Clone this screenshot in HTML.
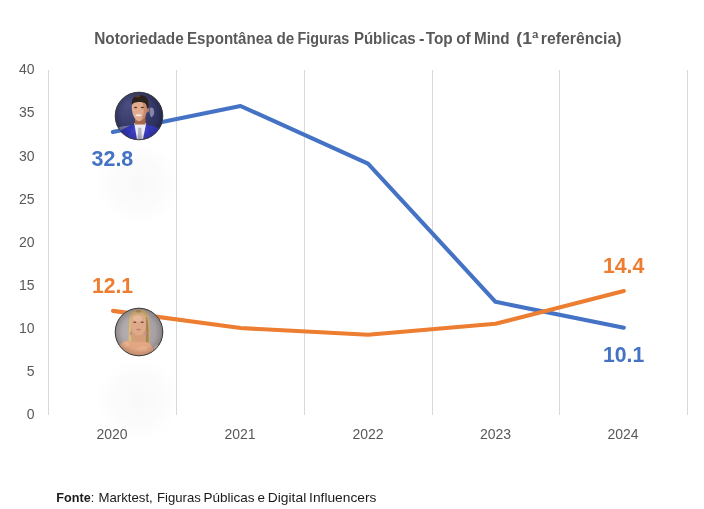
<!DOCTYPE html>
<html>
<head>
<meta charset="utf-8">
<style>
html,body{margin:0;padding:0;background:#fff;}
body{width:704px;height:509px;overflow:hidden;position:relative;font-family:"Liberation Sans",sans-serif;}
svg{position:absolute;left:0;top:0;will-change:transform;}
.t{font-family:"Liberation Sans",sans-serif;}
</style>
</head>
<body>
<svg width="704" height="509" viewBox="0 0 704 509">
<defs>
  <radialGradient id="sh" cx="0.5" cy="0.5" r="0.5">
    <stop offset="0" stop-color="#000" stop-opacity="0.025"/>
    <stop offset="0.6" stop-color="#000" stop-opacity="0.014"/>
    <stop offset="1" stop-color="#000" stop-opacity="0"/>
  </radialGradient>
  <clipPath id="c1"><circle cx="139" cy="116" r="24"/></clipPath>
  <clipPath id="c2"><circle cx="139" cy="332" r="24"/></clipPath>
  <radialGradient id="bg1" cx="0.3" cy="0.25" r="0.8">
    <stop offset="0" stop-color="#4a4f82"/>
    <stop offset="1" stop-color="#22264f"/>
  </radialGradient>
  <radialGradient id="bg2" cx="0.4" cy="0.45" r="0.6">
    <stop offset="0" stop-color="#bab3b5"/>
    <stop offset="1" stop-color="#9a9395"/>
  </radialGradient>
  <radialGradient id="vig" cx="0.5" cy="0.5" r="0.5">
    <stop offset="0.7" stop-color="#000" stop-opacity="0"/>
    <stop offset="1" stop-color="#000" stop-opacity="0.17"/>
  </radialGradient>
  <filter id="soft" x="-10%" y="-10%" width="120%" height="120%"><feGaussianBlur stdDeviation="0.55"/></filter>
</defs>

<!-- faint shadows -->
<ellipse cx="138" cy="184" rx="43" ry="41" fill="url(#sh)"/>
<ellipse cx="138" cy="399.5" rx="43" ry="41" fill="url(#sh)"/>

<!-- gridlines -->
<g fill="#d9d9d9">
  <rect x="48" y="70" width="1" height="345"/>
  <rect x="176" y="70" width="1" height="345"/>
  <rect x="304" y="70" width="1" height="345"/>
  <rect x="432" y="70" width="1" height="345"/>
  <rect x="559" y="70" width="1" height="345"/>
  <rect x="687" y="70" width="1" height="345"/>
</g>

<!-- y axis labels -->
<g class="t" font-size="14" fill="#595959" text-anchor="end">
  <text x="34.5" y="74.20">40</text>
  <text x="34.5" y="117.33">35</text>
  <text x="34.5" y="160.8">30</text>
  <text x="34.5" y="203.57">25</text>
  <text x="34.5" y="246.70">20</text>
  <text x="34.5" y="289.82">15</text>
  <text x="34.5" y="332.95">10</text>
  <text x="34.5" y="376.07">5</text>
  <text x="34.5" y="419.20">0</text>
</g>

<!-- x axis labels -->
<g class="t" font-size="14" fill="#595959" text-anchor="middle">
  <text x="112" y="439">2020</text>
  <text x="240" y="439">2021</text>
  <text x="368" y="439">2022</text>
  <text x="495.5" y="439">2023</text>
  <text x="623.1" y="439">2024</text>
</g>

<!-- lines -->
<polyline points="112.9,132.1 240.5,106 368,163.6 495.5,301.8 623.8,327.7" fill="none" stroke="#4472c4" stroke-width="4.1" stroke-linecap="round" stroke-linejoin="round"/>
<polyline points="113,310.9 240.5,328 368,334.8 495.5,323.8 623.8,290.9" fill="none" stroke="#ed7d31" stroke-width="4.1" stroke-linecap="round" stroke-linejoin="round"/>

<!-- photo 1 -->
<g clip-path="url(#c1)">
  <g filter="url(#soft)">
  <rect x="110" y="88" width="60" height="60" fill="url(#bg1)"/>
  <path d="M149.6,108 C151.5,106.5 154,108 153.9,110.5 C154.8,112.5 153.8,116 151.6,117.2 C150,116.8 149.3,113 149.6,108 Z" fill="#c4c6e0" opacity="0.55"/>
  <path d="M114,130 L121,126.5 L131,125.5 L124,130.5 L116,133.5 Z" fill="#a9abc8" opacity="0.55"/>
  <path d="M113,145 L113,137 Q118,130 133,124.5 L139.5,128 L146,124.5 Q157,126.5 165,131 L165,145 Z" fill="#3b3cc2"/>
  <path d="M134.2,123 L146.3,123 L142.6,141 L137.2,141 Z" fill="#ececf2"/>
  <path d="M138.2,127.8 L141.4,127.8 L141.9,141 L137.6,141 Z" fill="#b4b6c8"/>
  <path d="M134,124.5 L129.5,133 L123,141 L117,141 L116,136 Q121,129 134,124.5 Z" fill="#2e30a6" opacity="0.55"/>
  <path d="M146.5,124.5 L149,133 L154,141 L160,141 L161,133 Q155,127 146.5,124.5 Z" fill="#2e30a6" opacity="0.45"/>
  <rect x="135" y="114" width="10.5" height="10.5" fill="#a8674c"/>
  <ellipse cx="147.6" cy="110" rx="1.4" ry="2.6" fill="#b87a5c"/>
  <path d="M131.8,105 C131.3,112.5 134,120.6 139,121.2 C143.6,121 146.9,115 147.2,106 C147.2,103 144,102 139.5,102 C135,102 132,102.8 131.8,105 Z" fill="#e0ab8f"/>
  <path d="M142.5,103 C146.5,104 147.3,108 147.1,110 C146.8,115 144.5,119.5 140.5,121 C143.5,116.5 144.8,110 142.5,103 Z" fill="#b47a5e" opacity="0.65"/>
  <ellipse cx="138.4" cy="115.3" rx="3.1" ry="1.05" fill="#f4efeb"/>
  <ellipse cx="135.6" cy="107.6" rx="1.5" ry="0.75" fill="#4a2e26"/>
  <ellipse cx="142.4" cy="107.6" rx="1.5" ry="0.75" fill="#4a2e26"/>
  <path d="M131.7,105.5 C131.3,101 132.5,97.8 135,96.5 C137,95.4 140,95.2 142.8,95.6 C146.3,96.3 148.7,99.2 148.6,104 L148,108.5 L146.8,108 C146.7,105 145.6,102.8 142.5,102.3 C139,101.8 135.5,102 133.8,103 C132.8,103.6 132.2,104.5 131.7,105.5 Z" fill="#2f211b"/>
  <ellipse cx="137.6" cy="96.3" rx="2.8" ry="1.3" fill="#6e4330" opacity="0.85"/>
  </g>
  <circle cx="139" cy="116" r="24" fill="url(#vig)"/>
</g>
<circle cx="139" cy="116" r="23.8" fill="none" stroke="#3a3a3a" stroke-width="1"/>

<!-- photo 2 -->
<g clip-path="url(#c2)">
  <g filter="url(#soft)">
  <rect x="110" y="304" width="60" height="60" fill="url(#bg2)"/>
  <path d="M128.6,345 C128.1,332 128,320 130.3,314 C132.3,310 135.8,309.6 139,309.6 C142.5,309.6 146,310.4 147.9,314 C150.2,320 150.2,332 149.7,345 Z" fill="#cba671"/>
  <path d="M128.8,344 C128.6,334 128.8,324 130.2,317 L131.6,317 C130.8,326 130.8,335 131.5,344 Z" fill="#dcc08f" opacity="0.8"/>
  <path d="M148.5,344 C148.8,332 148.5,322 147,317 L145.2,317 C146.3,325 146.3,335 145.6,344 Z" fill="#9c7a50" opacity="0.8"/>
  <rect x="133.5" y="328" width="10.5" height="15" fill="#d69c7c"/>
  <path d="M116,360 L116,350 C118.5,345 122,341.3 126.5,340.7 C129,340.5 131,341.8 133.5,341.8 L145.5,341.8 C148,342 150.5,344 152.5,347 C154,350 155.5,355 156.5,360 Z" fill="#e3a683"/>
  <ellipse cx="126" cy="344.5" rx="3.5" ry="2.5" fill="#eec0a2" opacity="0.45"/><ellipse cx="143" cy="349" rx="6" ry="3" fill="#eebc9e" opacity="0.35"/><ellipse cx="158" cy="349" rx="4" ry="4" fill="#cbc5c7" opacity="0.8"/>
  <path d="M131,322 C131,330 134,335.4 138.5,335.4 C143,335.4 146,330 146,322 C146,316.5 143,313.6 138.5,313.6 C134,313.6 131,316.5 131,322 Z" fill="#deaa8a"/>
  <ellipse cx="137.5" cy="318.5" rx="4.5" ry="3" fill="#e9bea2" opacity="0.7"/>
  <ellipse cx="131" cy="333.5" rx="1.1" ry="1.9" fill="#c98a9a"/>
  <ellipse cx="145.6" cy="333.5" rx="1.1" ry="1.9" fill="#c98a9a"/>
  <path d="M130.6,321 C130.3,314 134,310.8 138.5,310.8 C143,310.8 146.7,314 146.4,321 C145.5,317 143.5,314.3 140,314.4 L138,314.4 C134.5,314.4 131.8,317 130.6,321 Z" fill="#cfac78"/>
  <ellipse cx="138.5" cy="311.4" rx="3" ry="1.1" fill="#8c6c4a" opacity="0.5"/>
  <ellipse cx="134.8" cy="322.2" rx="1.7" ry="0.7" fill="#6a4a42"/>
  <ellipse cx="142.2" cy="322.2" rx="1.7" ry="0.7" fill="#6a4a42"/>
  <ellipse cx="138.5" cy="329.6" rx="2.6" ry="0.8" fill="#c27e6c"/>
  </g>
  <circle cx="139" cy="332" r="24" fill="url(#vig)"/>
</g>
<circle cx="139" cy="332" r="23.8" fill="none" stroke="#3a3a3a" stroke-width="1"/>

<!-- data labels -->
<g class="t" font-size="22" font-weight="bold">
  <text x="91.5" y="166" fill="#4472c4" textLength="41.8" lengthAdjust="spacingAndGlyphs">32.8</text>
  <text x="91.9" y="293" fill="#ed7d31" textLength="41.2" lengthAdjust="spacingAndGlyphs">12.1</text>
  <text x="602.9" y="273" fill="#ed7d31" textLength="41.5" lengthAdjust="spacingAndGlyphs">14.4</text>
  <text x="602.9" y="362" fill="#4472c4" textLength="41.3" lengthAdjust="spacingAndGlyphs">10.1</text>
</g>

<!-- title -->
<g class="t">
<text x="94.20" y="43.7" font-size="16" font-weight="bold" fill="#595959" textLength="89.60" lengthAdjust="spacingAndGlyphs">Notoriedade</text>
<text x="187.00" y="43.7" font-size="16" font-weight="bold" fill="#595959" textLength="85.50" lengthAdjust="spacingAndGlyphs">Espontânea</text>
<text x="276.50" y="43.7" font-size="16" font-weight="bold" fill="#595959" textLength="17.80" lengthAdjust="spacingAndGlyphs">de</text>
<text x="297.40" y="43.7" font-size="16" font-weight="bold" fill="#595959" textLength="51.90" lengthAdjust="spacingAndGlyphs">Figuras</text>
<text x="353.90" y="43.7" font-size="16" font-weight="bold" fill="#595959" textLength="61.80" lengthAdjust="spacingAndGlyphs">Públicas</text>
<text x="419.00" y="43.7" font-size="16" font-weight="bold" fill="#595959" textLength="5.50" lengthAdjust="spacingAndGlyphs">-</text>
<text x="425.70" y="43.7" font-size="16" font-weight="bold" fill="#595959" textLength="27.00" lengthAdjust="spacingAndGlyphs">Top</text>
<text x="456.20" y="43.7" font-size="16" font-weight="bold" fill="#595959" textLength="14.50" lengthAdjust="spacingAndGlyphs">of</text>
<text x="474.10" y="43.7" font-size="16" font-weight="bold" fill="#595959" textLength="35.60" lengthAdjust="spacingAndGlyphs">Mind</text>
<text x="516.30" y="43.7" font-size="16" font-weight="bold" fill="#595959" textLength="22.10" lengthAdjust="spacingAndGlyphs">(1ª</text>
<text x="540.80" y="43.7" font-size="16" font-weight="bold" fill="#595959" textLength="80.70" lengthAdjust="spacingAndGlyphs">referência)</text>
</g>

<!-- footer -->
<g class="t">
<text x="56.30" y="501.5" font-size="13" font-weight="normal" fill="#1a1a1a" textLength="37.95" lengthAdjust="spacingAndGlyphs"><tspan font-weight="bold">Fonte</tspan>:</text>
<text x="98.50" y="501.5" font-size="13" font-weight="normal" fill="#1a1a1a" textLength="54.30" lengthAdjust="spacingAndGlyphs">Marktest,</text>
<text x="157.00" y="501.5" font-size="13" font-weight="normal" fill="#1a1a1a" textLength="43.80" lengthAdjust="spacingAndGlyphs">Figuras</text>
<text x="203.50" y="501.5" font-size="13" font-weight="normal" fill="#1a1a1a" textLength="51.00" lengthAdjust="spacingAndGlyphs">Públicas</text>
<text x="257.50" y="501.5" font-size="13" font-weight="normal" fill="#1a1a1a" textLength="7.50" lengthAdjust="spacingAndGlyphs">e</text>
<text x="267.80" y="501.5" font-size="13" font-weight="normal" fill="#1a1a1a" textLength="38.40" lengthAdjust="spacingAndGlyphs">Digital</text>
<text x="309.10" y="501.5" font-size="13" font-weight="normal" fill="#1a1a1a" textLength="67.30" lengthAdjust="spacingAndGlyphs">Influencers</text>
</g>
</svg>
</body>
</html>
